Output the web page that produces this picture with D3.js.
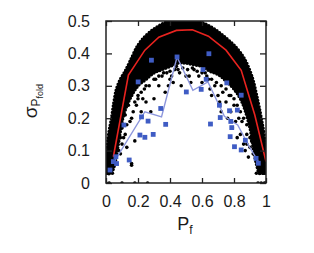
<!DOCTYPE html>
<html>
<head>
<meta charset="utf-8">
<script src="https://cdn.jsdelivr.net/npm/d3@7"></script>
<style>
  body { margin: 0; background: #fff; }
  svg { display: block; font-family: "Liberation Sans", Arial, sans-serif; }
</style>
</head>
<body>
<div id="chart"></div>
<script>
// dense band of the black scatter: upper edge and lower edge
const upperP = [0, 0.01, 0.02, 0.035, 0.05, 0.066, 0.09, 0.12, 0.15, 0.2, 0.25, 0.3, 0.35, 0.4, 0.45, 0.5, 0.55, 0.6, 0.65, 0.7, 0.75, 0.8, 0.85, 0.875, 0.9, 0.92, 0.95, 0.97, 0.99, 1.0];
const upperS = [0.04, 0.12, 0.16, 0.2, 0.25, 0.29, 0.32, 0.345, 0.375, 0.425, 0.455, 0.475, 0.49, 0.5, 0.505, 0.505, 0.503, 0.495, 0.483, 0.467, 0.447, 0.425, 0.395, 0.374, 0.345, 0.315, 0.25, 0.2, 0.14, 0.06];
const lowerP = [0, 0.03, 0.05, 0.07, 0.09, 0.11, 0.15, 0.2, 0.25, 0.3, 0.35, 0.4, 0.45, 0.5, 0.55, 0.6, 0.65, 0.7, 0.75, 0.8, 0.85, 0.9, 0.92, 0.94, 0.96, 0.98, 1.0];
const lowerS = [0.03, 0.03, 0.05, 0.1, 0.16, 0.21, 0.26, 0.3, 0.32, 0.34, 0.35, 0.36, 0.37, 0.37, 0.365, 0.36, 0.345, 0.335, 0.315, 0.29, 0.25, 0.17, 0.11, 0.06, 0.03, 0.03, 0.03];

// sparse black points below the band
const dotP = [0.07, 0.08, 0.09, 0.1, 0.1, 0.12, 0.12, 0.13, 0.14, 0.15, 0.16, 0.16, 0.17, 0.18, 0.19, 0.2, 0.22, 0.23, 0.24, 0.25, 0.27, 0.28, 0.3, 0.31, 0.33, 0.35, 0.37, 0.38, 0.41, 0.42, 0.44, 0.45, 0.46, 0.47, 0.5, 0.52, 0.55, 0.58, 0.6, 0.62, 0.64, 0.65, 0.66, 0.68, 0.7, 0.71, 0.72, 0.73, 0.75, 0.76, 0.77, 0.78, 0.79, 0.8, 0.81, 0.82, 0.83, 0.84, 0.85, 0.86, 0.87, 0.88, 0.89, 0.9, 0.91, 0.16,
              0.05, 0.06, 0.07, 0.08, 0.09, 0.06, 0.08, 0.11, 0.13,
              0.3, 0.33, 0.36, 0.4, 0.43, 0.48, 0.51, 0.54, 0.57, 0.6, 0.63, 0.66, 0.69, 0.25, 0.22, 0.2, 0.18, 0.72, 0.75, 0.78, 0.8, 0.82, 0.84, 0.86, 0.88, 0.5, 0.53, 0.4, 0.39, 0.9, 0.92, 0.93, 0.88,
              0.0, 0.02, 0.1, 0.18, 0.26, 0.95, 0.97, 0.99, 1.0, 0.01, 0.02, 0.04, 0.94, 0.96, 0.98, 0.99];
const dotS = [0.19, 0.16, 0.14, 0.12, 0.17, 0.21, 0.15, 0.11, 0.24, 0.19, 0.06, 0.2, 0.22, 0.13, 0.24, 0.27, 0.22, 0.26, 0.29, 0.25, 0.3, 0.22, 0.26, 0.32, 0.3, 0.33, 0.28, 0.34, 0.33, 0.31, 0.36, 0.35, 0.34, 0.3, 0.28, 0.33, 0.35, 0.33, 0.31, 0.34, 0.32, 0.29, 0.27, 0.3, 0.27, 0.25, 0.22, 0.28, 0.25, 0.2, 0.27, 0.22, 0.17, 0.24, 0.19, 0.14, 0.2, 0.15, 0.19, 0.12, 0.1, 0.15, 0.08, 0.11, 0.13, 0.055,
              0.12, 0.15, 0.13, 0.1, 0.09, 0.18, 0.2, 0.14, 0.18,
              0.32, 0.33, 0.34, 0.345, 0.35, 0.355, 0.35, 0.355, 0.345, 0.34, 0.33, 0.32, 0.31, 0.3, 0.28, 0.26, 0.25, 0.3, 0.29, 0.27, 0.26, 0.24, 0.22, 0.2, 0.18, 0.33, 0.31, 0.32, 0.3, 0.14, 0.09, 0.12, 0.12,
              0, 0, 0, 0, 0, 0, 0, 0, 0, 0.03, 0.03, 0.03, 0.03, 0.03, 0.03, 0.03];

// blue squares
const bluP = [0.025, 0.046, 0.062, 0.066, 0.112, 0.145, 0.201, 0.212, 0.222, 0.243, 0.263, 0.284, 0.295, 0.342, 0.373, 0.444, 0.502, 0.595, 0.606, 0.626, 0.643, 0.653, 0.709, 0.714, 0.755, 0.772, 0.78, 0.786, 0.776, 0.803, 0.821, 0.845, 0.845, 0.871, 0.938, 0.952];
const bluS = [0.04, 0.066, 0.081, 0.06, 0.179, 0.071, 0.312, 0.148, 0.204, 0.141, 0.191, 0.379, 0.15, 0.23, 0.181, 0.389, 0.281, 0.289, 0.35, 0.32, 0.399, 0.182, 0.24, 0.202, 0.309, 0.223, 0.19, 0.171, 0.143, 0.112, 0.225, 0.271, 0.102, 0.132, 0.076, 0.061];

// blue line
const bluLineP = [0.046, 0.243, 0.347, 0.444, 0.543, 0.637, 0.74, 0.823, 0.896, 0.958];
const bluLineS = [0.061, 0.22, 0.204, 0.389, 0.286, 0.312, 0.206, 0.179, 0.112, 0.061];

// red line
const redP = [0.046, 0.14, 0.243, 0.33, 0.44, 0.54, 0.64, 0.75, 0.845, 0.93, 1.0];
const redS = [0.081, 0.333, 0.41, 0.45, 0.471, 0.473, 0.453, 0.41, 0.348, 0.21, 0.066];

const xTicks = [0, 0.2, 0.4, 0.6, 0.8, 1];
const yTicks = [0, 0.1, 0.2, 0.3, 0.4, 0.5];

const W = 314, H = 253;
const mLeft = 106, mRight = 266, mTop = 21, mBottom = 183;

const svg = d3.select("#chart").append("svg")
  .attr("width", W).attr("height", H);

const x = d3.scaleLinear().domain([0, 1]).range([mLeft, mRight]);
const y = d3.scaleLinear().domain([0, 0.5]).range([mBottom, mTop]);

svg.append("clipPath").attr("id", "clip")
  .append("rect").attr("x", mLeft).attr("y", mTop)
  .attr("width", mRight - mLeft).attr("height", mBottom - mTop);

const plot = svg.append("g").attr("clip-path", "url(#clip)");

// band outline: upper edge left to right, then lower edge back
const bandPts = upperP.map((p, i) => [p, upperS[i]])
  .concat(lowerP.map((p, i) => [p, lowerS[i]]).reverse());
const line = d3.line().x(d => x(d[0])).y(d => y(d[1]));
plot.append("path").datum(bandPts)
  .attr("d", line.curve(d3.curveCatmullRomClosed)(bandPts))
  .attr("fill", "#000")
  .attr("stroke", "#000")
  .attr("stroke-width", 3.6)
  .attr("stroke-linecap", "round")
  .attr("stroke-dasharray", "0 3.2");
line.curve(d3.curveLinear);

// sparse dots
plot.selectAll(".dot")
  .data(dotP.map((p, i) => [p, dotS[i]]))
  .enter().append("circle")
  .attr("class", "dot")
  .attr("cx", d => x(d[0])).attr("cy", d => y(d[1]))
  .attr("r", 1.8).attr("fill", "#000");

// red line
plot.append("path")
  .datum(redP.map((p, i) => [p, redS[i]]))
  .attr("d", line).attr("fill", "none")
  .attr("stroke", "#e8231f").attr("stroke-width", 1.6);

// blue line
plot.append("path")
  .datum(bluLineP.map((p, i) => [p, bluLineS[i]]))
  .attr("d", line).attr("fill", "none")
  .attr("stroke", "#8c96dc").attr("stroke-width", 1.4);

// blue squares
const sq = 4.8;
plot.selectAll(".sq")
  .data(bluP.map((p, i) => [p, bluS[i]]))
  .enter().append("rect")
  .attr("class", "sq")
  .attr("x", d => x(d[0]) - sq / 2).attr("y", d => y(d[1]) - sq / 2)
  .attr("width", sq).attr("height", sq)
  .attr("fill", "#3f5cc4");

// axes with inward ticks on all sides
function styleAxis(g) {
  g.select(".domain").remove();
  g.selectAll(".tick line").attr("stroke", "#222").attr("stroke-width", 1.3);
}
svg.append("g").attr("transform", `translate(0,${mBottom})`)
  .call(d3.axisBottom(x).tickValues(xTicks).tickSize(-5).tickPadding(13).tickFormat(d3.format("~g")))
  .call(styleAxis)
  .call(g => g.selectAll("text").attr("font-size", 16).attr("fill", "#1a1a1a").attr("font-family", "Liberation Sans, Arial"));
svg.append("g").attr("transform", `translate(0,${mTop})`)
  .call(d3.axisTop(x).tickValues(xTicks).tickSize(-5).tickFormat(""))
  .call(styleAxis);
svg.append("g").attr("transform", `translate(${mLeft},0)`)
  .call(d3.axisLeft(y).tickValues(yTicks).tickSize(-6).tickPadding(16).tickFormat(d3.format("~g")))
  .call(styleAxis)
  .call(g => g.selectAll("text").attr("font-size", 16).attr("fill", "#1a1a1a").attr("font-family", "Liberation Sans, Arial"));
svg.append("g").attr("transform", `translate(${mRight},0)`)
  .call(d3.axisRight(y).tickValues(yTicks).tickSize(-6).tickFormat(""))
  .call(styleAxis);

// frame
svg.append("rect")
  .attr("x", mLeft).attr("y", mTop)
  .attr("width", mRight - mLeft).attr("height", mBottom - mTop)
  .attr("fill", "none").attr("stroke", "#222").attr("stroke-width", 1.5);

// axis titles
const xt = svg.append("text")
  .attr("x", 185).attr("y", 230)
  .attr("text-anchor", "middle").attr("fill", "#1a1a1a")
  .attr("font-size", 18);
xt.append("tspan").text("P");
xt.append("tspan").attr("font-size", 12).attr("dy", 4).text("f");

const yt = svg.append("text")
  .attr("transform", "translate(37,101) rotate(-90)")
  .attr("text-anchor", "middle").attr("fill", "#1a1a1a")
  .attr("font-size", 19);
yt.append("tspan").text("σ");
yt.append("tspan").attr("font-size", 12).attr("dy", 3).text("P");
yt.append("tspan").attr("font-size", 9).attr("dy", 3).text("fold");
</script>
</body>
</html>
